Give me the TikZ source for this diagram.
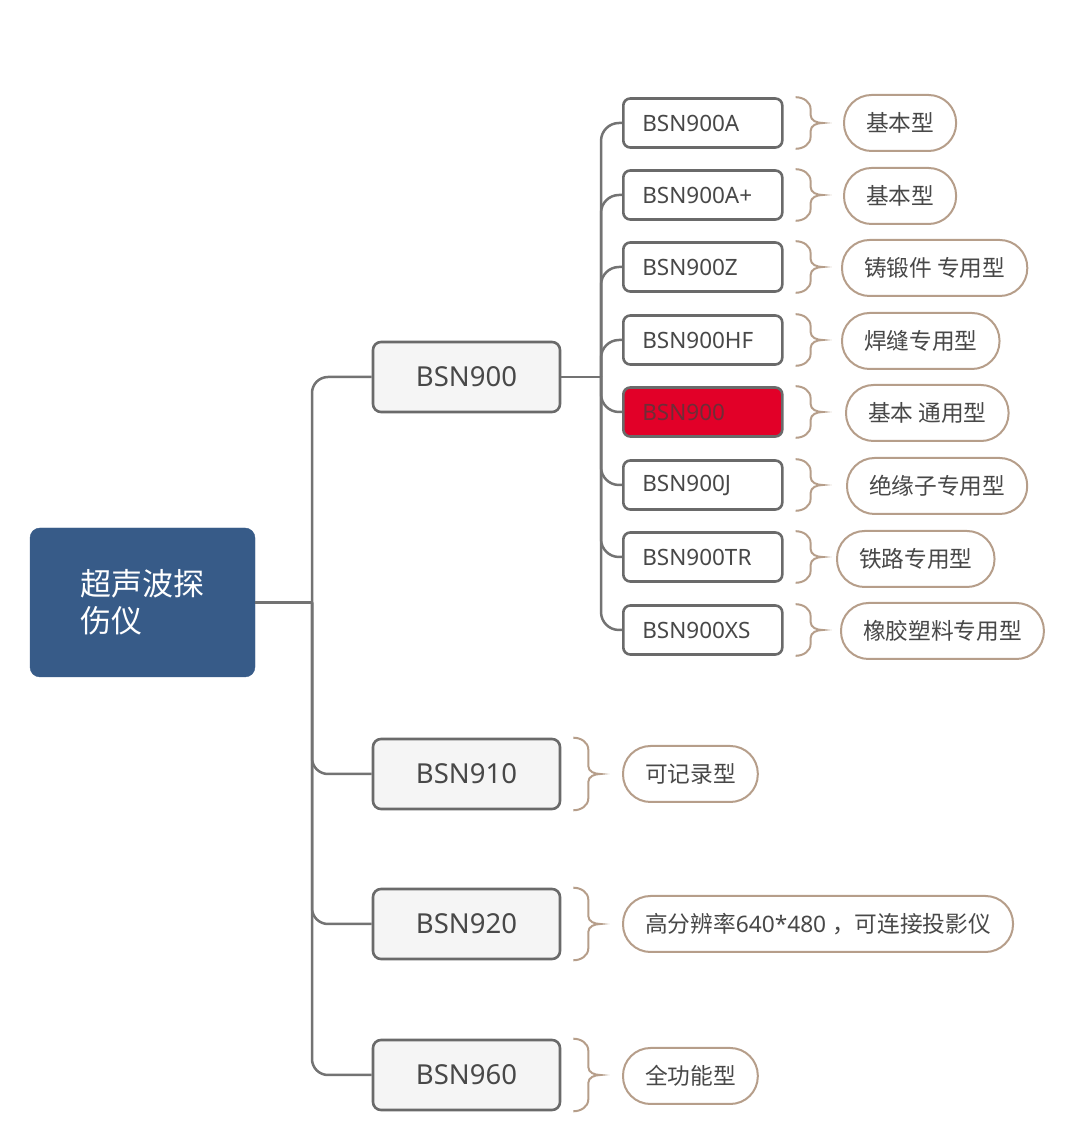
\documentclass[tikz,border=0pt]{standalone}
\usepackage{fontspec}
\setmainfont{Noto Sans}
\newfontfamily\cjk{Noto Sans CJK SC}
\usetikzlibrary{calc}
\definecolor{rootblue}{RGB}{55,91,136}
\definecolor{nodefill}{RGB}{245,245,245}
\definecolor{nodeline}{RGB}{106,106,106}
\definecolor{linkgray}{RGB}{115,115,115}
\definecolor{tan}{RGB}{182,158,138}
\definecolor{hotred}{RGB}{226,0,40}
\definecolor{txt}{RGB}{72,72,72}
\definecolor{redtxt}{RGB}{110,45,55}
\newcommand\mybrc[1]{%
  \draw[bracestyle] ($(#1.north east)+(12,0)$) to[out=0,in=90] ($(#1.north east)+(27,-12)$)
    -- ($(#1.east)+(27,8)$) to[out=-90,in=180] ($(#1.east)+(39,0)$)
    to[out=180,in=90] ($(#1.east)+(27,-8)$)
    -- ($(#1.south east)+(27,12)$) to[out=-90,in=0] ($(#1.south east)+(12,0)$);}
\begin{document}
\begin{tikzpicture}[x=1pt,y=1pt,
  rootbox/.style={draw=rootblue,fill=rootblue,rounded corners=10,minimum width=225,minimum height=149,
    text=white,align=left,font=\cjk\fontsize{31}{37}\selectfont,inner sep=0},
  lvlone/.style={draw=nodeline,fill=nodefill,line width=2.6,rounded corners=8,minimum width=187,
    minimum height=70,text=txt,font=\fontsize{27.5}{30}\selectfont,inner sep=0},
  lvltwo/.style={draw=nodeline,fill=white,line width=2.6,rounded corners=7,minimum width=159,
    minimum height=49,text=txt,font=\fontsize{22.5}{26}\selectfont,inner xsep=19,inner ysep=0,
    text width=121,align=left,anchor=west},
  pill/.style={draw=tan,fill=white,line width=2,rounded corners=27.5,minimum height=56,
    inner xsep=22,inner ysep=0,text=txt,font=\cjk\fontsize{22.7}{26}\selectfont,anchor=west},
  link/.style={draw=linkgray,line width=2.5},
  bracestyle/.style={draw=tan,line width=2}]
\useasboundingbox (0,0) rectangle (1066,1144);
% root
\node[rootbox] (root) at (142.5,541.5) {超声波探\\伤仪};
% level one
\node[lvlone] (b900) at (466.5,767) {BSN900};
\node[lvlone] (b910) at (466.5,370) {BSN910};
\node[lvlone] (b920) at (466.5,220) {BSN920};
\node[lvlone] (b960) at (466.5,69) {BSN960};
% level two
\node[lvltwo] (a)  at (622,1021) {BSN900A};
\node[lvltwo] (ap) at (622,949) {BSN900A+};
\node[lvltwo] (z)  at (622,877) {BSN900Z};
\node[lvltwo] (hf) at (622,804) {BSN900HF};
\node[lvltwo,fill=hotred,text=redtxt] (rd) at (622,732) {BSN900};
\node[lvltwo] (j)  at (622,659) {BSN900J};
\node[lvltwo] (tr) at (622,587) {BSN900TR};
\node[lvltwo] (xs) at (622,514) {BSN900XS};
% summaries
\node[pill] (sa)  at (843,1021) {基本型};
\node[pill] (sap) at (843,948) {基本型};
\node[pill] (sz)  at (841,876) {铸锻件 专用型};
\node[pill] (shf) at (841,803) {焊缝专用型};
\node[pill] (srd) at (845,731) {基本 通用型};
\node[pill] (sj)  at (846,658) {绝缘子专用型};
\node[pill] (str) at (836,585) {铁路专用型};
\node[pill] (sxs) at (840,513) {橡胶塑料专用型};
\node[pill] (s910) at (622,370) {可记录型};
\node[pill] (s920) at (622,220) {高分辨率{\fontspec{Noto Sans}640*480 }，可连接投影仪};
\node[pill] (s960) at (622,68) {全功能型};
% junctions
\coordinate (j1) at (312,541.5);
\coordinate (j2) at (601,767);
\draw[link] (root.east) -- (j1);
\foreach \c in {b900,b910,b920,b960}
  {\draw[link,rounded corners=16] (j1) |- (\c.west);}
\draw[link] (b900.east) -- (j2);
\foreach \c in {a,ap,z,hf,rd,j,tr,xs}
  {\draw[link,rounded corners=18] (j2) |- (\c.west);}
% braces
\foreach \c in {a,ap,z,hf,rd,j,tr,xs,b910,b920,b960}
  {\mybrc{\c}}
\end{tikzpicture}
\end{document}
